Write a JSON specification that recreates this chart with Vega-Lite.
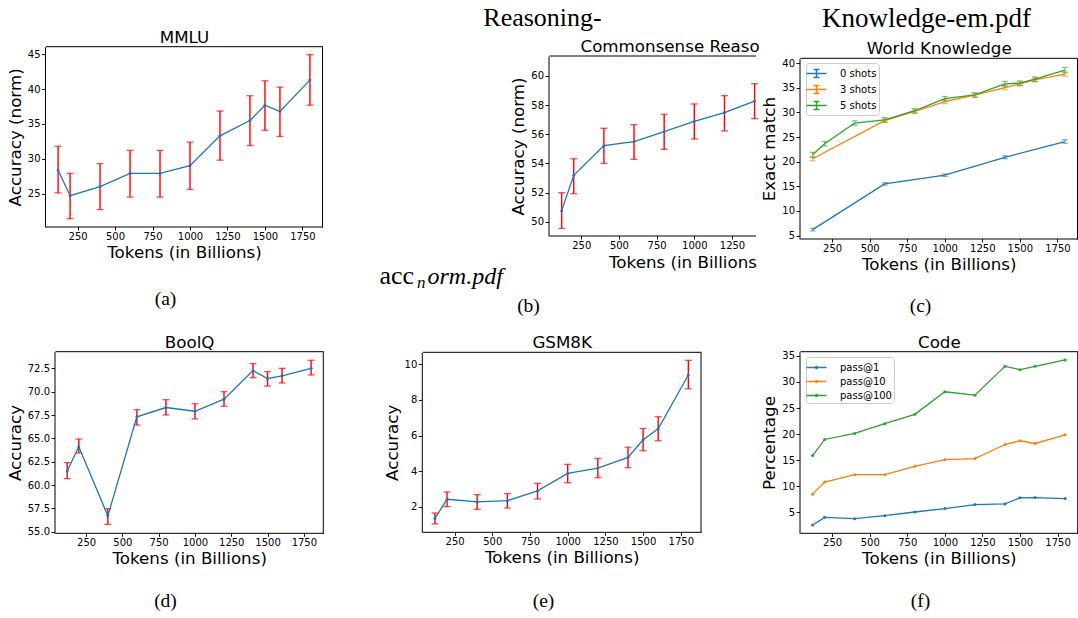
{
  "$schema": "https://vega.github.io/schema/vega-lite/v6.json",
  "width": 1078,
  "height": 618,
  "autosize": {"type": "none"},
  "padding": 0,
  "background": "white",
  "datasets": {
    "mmlu": [
      {"tokens": 120, "acc": 28.4, "lo": 25.1, "hi": 31.8},
      {"tokens": 200, "acc": 24.7, "lo": 21.4, "hi": 27.9},
      {"tokens": 400, "acc": 26.0, "lo": 22.7, "hi": 29.3},
      {"tokens": 600, "acc": 27.9, "lo": 24.5, "hi": 31.2},
      {"tokens": 800, "acc": 27.9, "lo": 24.5, "hi": 31.2},
      {"tokens": 1000, "acc": 29.0, "lo": 25.6, "hi": 32.4},
      {"tokens": 1200, "acc": 33.3, "lo": 29.8, "hi": 36.85},
      {"tokens": 1400, "acc": 35.5, "lo": 31.9, "hi": 39.05},
      {"tokens": 1500, "acc": 37.7, "lo": 34.1, "hi": 41.2},
      {"tokens": 1600, "acc": 36.8, "lo": 33.2, "hi": 40.3},
      {"tokens": 1800, "acc": 41.3, "lo": 37.7, "hi": 44.95}
    ],
    "csr": [
      {"tokens": 120, "acc": 50.76, "lo": 49.54, "hi": 51.99},
      {"tokens": 200, "acc": 53.18, "lo": 51.92, "hi": 54.32},
      {"tokens": 400, "acc": 55.22, "lo": 54.0, "hi": 56.41},
      {"tokens": 600, "acc": 55.49, "lo": 54.28, "hi": 56.66},
      {"tokens": 800, "acc": 56.18, "lo": 54.97, "hi": 57.37},
      {"tokens": 1000, "acc": 56.89, "lo": 55.67, "hi": 58.08},
      {"tokens": 1200, "acc": 57.48, "lo": 56.23, "hi": 58.65},
      {"tokens": 1400, "acc": 58.28, "lo": 57.07, "hi": 59.47}
    ],
    "wk": [
      {"series": "0 shots", "tokens": 120, "em": 6.2, "lo": 5.95, "hi": 6.45},
      {"series": "0 shots", "tokens": 600, "em": 15.5, "lo": 15.25, "hi": 15.75},
      {"series": "0 shots", "tokens": 1000, "em": 17.25, "lo": 17.0, "hi": 17.5},
      {"series": "0 shots", "tokens": 1400, "em": 20.9, "lo": 20.6, "hi": 21.2},
      {"series": "0 shots", "tokens": 1800, "em": 24.1, "lo": 23.75, "hi": 24.45},
      {"series": "3 shots", "tokens": 120, "em": 20.6, "lo": 20.2, "hi": 21.0},
      {"series": "3 shots", "tokens": 600, "em": 28.35, "lo": 28.0, "hi": 28.7},
      {"series": "3 shots", "tokens": 800, "em": 30.2, "lo": 29.85, "hi": 30.55},
      {"series": "3 shots", "tokens": 1000, "em": 32.2, "lo": 31.8, "hi": 32.6},
      {"series": "3 shots", "tokens": 1200, "em": 33.5, "lo": 33.1, "hi": 33.9},
      {"series": "3 shots", "tokens": 1400, "em": 35.05, "lo": 34.6, "hi": 35.5},
      {"series": "3 shots", "tokens": 1500, "em": 35.8, "lo": 35.4, "hi": 36.2},
      {"series": "3 shots", "tokens": 1600, "em": 36.6, "lo": 36.2, "hi": 37.0},
      {"series": "3 shots", "tokens": 1800, "em": 37.8, "lo": 37.35, "hi": 38.25},
      {"series": "5 shots", "tokens": 120, "em": 21.4, "lo": 20.9, "hi": 21.9},
      {"series": "5 shots", "tokens": 200, "em": 23.65, "lo": 23.2, "hi": 24.1},
      {"series": "5 shots", "tokens": 400, "em": 27.85, "lo": 27.4, "hi": 28.3},
      {"series": "5 shots", "tokens": 600, "em": 28.5, "lo": 28.05, "hi": 28.95},
      {"series": "5 shots", "tokens": 800, "em": 30.35, "lo": 29.9, "hi": 30.8},
      {"series": "5 shots", "tokens": 1000, "em": 32.8, "lo": 32.35, "hi": 33.25},
      {"series": "5 shots", "tokens": 1200, "em": 33.55, "lo": 33.1, "hi": 34.0},
      {"series": "5 shots", "tokens": 1400, "em": 35.8, "lo": 35.3, "hi": 36.3},
      {"series": "5 shots", "tokens": 1500, "em": 35.95, "lo": 35.5, "hi": 36.4},
      {"series": "5 shots", "tokens": 1600, "em": 36.75, "lo": 36.3, "hi": 37.2},
      {"series": "5 shots", "tokens": 1800, "em": 38.6, "lo": 38.05, "hi": 39.15}
    ],
    "boolq": [
      {"tokens": 120, "acc": 61.5, "lo": 60.68, "hi": 62.39},
      {"tokens": 200, "acc": 64.1, "lo": 63.43, "hi": 64.93},
      {"tokens": 400, "acc": 56.7, "lo": 55.79, "hi": 57.46},
      {"tokens": 600, "acc": 67.3, "lo": 66.43, "hi": 68.07},
      {"tokens": 800, "acc": 68.3, "lo": 67.5, "hi": 69.14},
      {"tokens": 1000, "acc": 67.9, "lo": 67.07, "hi": 68.71},
      {"tokens": 1200, "acc": 69.2, "lo": 68.43, "hi": 70.0},
      {"tokens": 1400, "acc": 72.25, "lo": 71.5, "hi": 73.0},
      {"tokens": 1500, "acc": 71.4, "lo": 70.6, "hi": 72.14},
      {"tokens": 1600, "acc": 71.7, "lo": 70.93, "hi": 72.5},
      {"tokens": 1800, "acc": 72.5, "lo": 71.79, "hi": 73.36}
    ],
    "gsm": [
      {"tokens": 120, "acc": 1.36, "lo": 1.05, "hi": 1.66},
      {"tokens": 200, "acc": 2.43, "lo": 2.02, "hi": 2.84},
      {"tokens": 400, "acc": 2.28, "lo": 1.87, "hi": 2.69},
      {"tokens": 600, "acc": 2.35, "lo": 1.94, "hi": 2.75},
      {"tokens": 800, "acc": 2.9, "lo": 2.45, "hi": 3.32},
      {"tokens": 1000, "acc": 3.88, "lo": 3.36, "hi": 4.39},
      {"tokens": 1200, "acc": 4.18, "lo": 3.64, "hi": 4.72},
      {"tokens": 1400, "acc": 4.78, "lo": 4.2, "hi": 5.35},
      {"tokens": 1500, "acc": 5.77, "lo": 5.15, "hi": 6.4},
      {"tokens": 1600, "acc": 6.38, "lo": 5.71, "hi": 7.06},
      {"tokens": 1800, "acc": 9.4, "lo": 8.62, "hi": 10.22}
    ],
    "code": [
      {"metric": "pass@1", "tokens": 120, "pct": 2.55},
      {"metric": "pass@1", "tokens": 200, "pct": 4.03},
      {"metric": "pass@1", "tokens": 400, "pct": 3.78},
      {"metric": "pass@1", "tokens": 600, "pct": 4.36},
      {"metric": "pass@1", "tokens": 800, "pct": 5.06},
      {"metric": "pass@1", "tokens": 1000, "pct": 5.71},
      {"metric": "pass@1", "tokens": 1200, "pct": 6.48},
      {"metric": "pass@1", "tokens": 1400, "pct": 6.61},
      {"metric": "pass@1", "tokens": 1500, "pct": 7.77},
      {"metric": "pass@1", "tokens": 1600, "pct": 7.83},
      {"metric": "pass@1", "tokens": 1800, "pct": 7.64},
      {"metric": "pass@10", "tokens": 120, "pct": 8.48},
      {"metric": "pass@10", "tokens": 200, "pct": 10.8},
      {"metric": "pass@10", "tokens": 400, "pct": 12.21},
      {"metric": "pass@10", "tokens": 600, "pct": 12.21},
      {"metric": "pass@10", "tokens": 800, "pct": 13.82},
      {"metric": "pass@10", "tokens": 1000, "pct": 15.11},
      {"metric": "pass@10", "tokens": 1200, "pct": 15.3},
      {"metric": "pass@10", "tokens": 1400, "pct": 18.0},
      {"metric": "pass@10", "tokens": 1500, "pct": 18.72},
      {"metric": "pass@10", "tokens": 1600, "pct": 18.2},
      {"metric": "pass@10", "tokens": 1800, "pct": 19.87},
      {"metric": "pass@100", "tokens": 120, "pct": 15.88},
      {"metric": "pass@100", "tokens": 200, "pct": 18.97},
      {"metric": "pass@100", "tokens": 400, "pct": 20.13},
      {"metric": "pass@100", "tokens": 600, "pct": 22.0},
      {"metric": "pass@100", "tokens": 800, "pct": 23.8},
      {"metric": "pass@100", "tokens": 1000, "pct": 28.12},
      {"metric": "pass@100", "tokens": 1200, "pct": 27.47},
      {"metric": "pass@100", "tokens": 1400, "pct": 33.0},
      {"metric": "pass@100", "tokens": 1500, "pct": 32.37},
      {"metric": "pass@100", "tokens": 1600, "pct": 33.0},
      {"metric": "pass@100", "tokens": 1800, "pct": 34.23}
    ]
  },
  "layer": [
    {
      "data": {"name": "mmlu"},
      "mark": {"type": "rule", "color": "#ff0000", "strokeWidth": 1.4},
      "encoding": {
        "x": {"field": "tokens", "type": "quantitative", "scale": {"domain": [36, 1884], "range": [45.5, 322.5], "nice": false, "zero": false},
              "axis": {"orient": "top", "offset": -46.2, "labels": false, "ticks": false, "title": "MMLU", "titleBaseline": "alphabetic", "titlePadding": 4}},
        "y": {"field": "lo", "type": "quantitative", "scale": {"domain": [20.2, 46.1], "range": [227, 46.7], "nice": false, "zero": false},
              "axis": {"orient": "right", "offset": -756, "labels": false, "ticks": false, "title": null}},
        "y2": {"field": "hi"}
      }
    },
    {
      "data": {"name": "mmlu"},
      "transform": [{"fold": ["lo", "hi"], "as": ["bound", "v"]}],
      "mark": {"type": "tick", "orient": "horizontal", "color": "#ff0000", "size": 7, "thickness": 1.3},
      "encoding": {
        "x": {"field": "tokens", "type": "quantitative", "scale": {"domain": [36, 1884], "range": [45.5, 322.5], "nice": false, "zero": false},
              "axis": {"orient": "top", "offset": 0, "domain": false, "labels": false, "ticks": false, "title": "(a)", "titleX": 165, "titleY": 304, "titleAlign": "center", "titleBaseline": "alphabetic", "titleFont": "Liberation Serif", "titleFontSize": 19.5}},
        "y": {"field": "v", "type": "quantitative", "scale": {"domain": [20.2, 46.1], "range": [227, 46.7], "nice": false, "zero": false}, "axis": null}
      }
    },
    {
      "data": {"name": "mmlu"},
      "mark": {"type": "line", "color": "#1f77b4", "strokeWidth": 1.3},
      "encoding": {
        "x": {"field": "tokens", "type": "quantitative", "scale": {"domain": [36, 1884], "range": [45.5, 322.5], "nice": false, "zero": false},
              "axis": {"orient": "bottom", "offset": -391.5, "values": [250, 500, 750, 1000, 1250, 1500, 1750], "format": "d", "title": "Tokens (in Billions)", "titlePadding": 3}},
        "y": {"field": "acc", "type": "quantitative", "scale": {"domain": [20.2, 46.1], "range": [227, 46.7], "nice": false, "zero": false},
              "axis": {"orient": "left", "offset": -45, "values": [25, 30, 35, 40, 45], "title": "Accuracy (norm)", "titlePadding": 3}}
      }
    },
    {
      "data": {"name": "mmlu"},
      "mark": {"type": "circle", "color": "#1f77b4", "size": 9, "opacity": 1},
      "encoding": {
        "x": {"field": "tokens", "type": "quantitative", "scale": {"domain": [36, 1884], "range": [45.5, 322.5], "nice": false, "zero": false}, "axis": null},
        "y": {"field": "acc", "type": "quantitative", "scale": {"domain": [20.2, 46.1], "range": [227, 46.7], "nice": false, "zero": false}, "axis": null}
      }
    },

    {
      "data": {"name": "csr"},
      "mark": {"type": "rule", "color": "#ff0000", "strokeWidth": 1.4},
      "encoding": {
        "x": {"field": "tokens", "type": "quantitative", "scale": {"domain": [36, 1406], "range": [549, 755.5], "nice": false, "zero": false},
              "axis": {"orient": "top", "offset": -55.5, "labels": false, "ticks": false, "title": "Commonsense Reaso", "titleX": 580, "titleY": -4.5, "titleAlign": "left", "titleBaseline": "alphabetic"}},
        "y": {"field": "lo", "type": "quantitative", "scale": {"domain": [49.02, 61.37], "range": [236, 56], "nice": false, "zero": false},
              "axis": {"orient": "left", "offset": 0, "domain": false, "labels": false, "ticks": false, "title": "acc", "titleAngle": 0, "titleX": 379, "titleY": 283, "titleAlign": "left", "titleBaseline": "alphabetic", "titleFont": "Liberation Serif", "titleFontSize": 26}},
        "y2": {"field": "hi"}
      }
    },
    {
      "data": {"name": "csr"},
      "transform": [{"fold": ["lo", "hi"], "as": ["bound", "v"]}],
      "mark": {"type": "tick", "orient": "horizontal", "color": "#ff0000", "size": 7, "thickness": 1.3},
      "encoding": {
        "x": {"field": "tokens", "type": "quantitative", "scale": {"domain": [36, 1406], "range": [549, 755.5], "nice": false, "zero": false},
              "axis": {"orient": "top", "offset": 0, "domain": false, "labels": false, "ticks": false, "title": "(b)", "titleX": 528, "titleY": 311, "titleAlign": "center", "titleBaseline": "alphabetic", "titleFont": "Liberation Serif", "titleFontSize": 19.5}},
        "y": {"field": "v", "type": "quantitative", "scale": {"domain": [49.02, 61.37], "range": [236, 56], "nice": false, "zero": false},
              "axis": {"orient": "left", "offset": 0, "domain": false, "labels": false, "ticks": false, "title": "Reasoning-", "titleAngle": 0, "titleX": 542, "titleY": 25, "titleAlign": "center", "titleBaseline": "alphabetic", "titleFont": "Liberation Serif", "titleFontSize": 26}}
      }
    },
    {
      "data": {"name": "csr"},
      "mark": {"type": "line", "color": "#1f77b4", "strokeWidth": 1.3},
      "encoding": {
        "x": {"field": "tokens", "type": "quantitative", "scale": {"domain": [36, 1406], "range": [549, 755.5], "nice": false, "zero": false},
              "axis": {"orient": "bottom", "offset": -382.5, "values": [250, 500, 750, 1000, 1250], "format": "d", "title": "Tokens (in Billions", "titleX": 608.5, "titleY": 31.8, "titleAlign": "left", "titleBaseline": "alphabetic"}},
        "y": {"field": "acc", "type": "quantitative", "scale": {"domain": [49.02, 61.37], "range": [236, 56], "nice": false, "zero": false},
              "axis": {"orient": "left", "offset": -548.5, "values": [50, 52, 54, 56, 58, 60], "title": "Accuracy (norm)", "titlePadding": 3}}
      }
    },
    {
      "data": {"name": "csr"},
      "mark": {"type": "circle", "color": "#1f77b4", "size": 9, "opacity": 1},
      "encoding": {
        "x": {"field": "tokens", "type": "quantitative", "scale": {"domain": [36, 1406], "range": [549, 755.5], "nice": false, "zero": false},
              "axis": {"orient": "top", "offset": 0, "domain": false, "labels": false, "ticks": false, "title": "n", "titleX": 416.5, "titleY": 287, "titleAlign": "left", "titleBaseline": "alphabetic", "titleFont": "Liberation Serif", "titleFontStyle": "italic", "titleFontSize": 17}},
        "y": {"field": "acc", "type": "quantitative", "scale": {"domain": [49.02, 61.37], "range": [236, 56], "nice": false, "zero": false},
              "axis": {"orient": "left", "offset": 0, "domain": false, "labels": false, "ticks": false, "title": "orm.pdf", "titleAngle": 0, "titleX": 427, "titleY": 283, "titleAlign": "left", "titleBaseline": "alphabetic", "titleFont": "Liberation Serif", "titleFontStyle": "italic", "titleFontSize": 24}}
      }
    },

    {
      "data": {"name": "wk"},
      "mark": {"type": "rule", "strokeWidth": 1.2, "opacity": 0.55},
      "encoding": {
        "x": {"field": "tokens", "type": "quantitative", "scale": {"domain": [36, 1884], "range": [800, 1077.5], "nice": false, "zero": false},
              "axis": {"orient": "top", "offset": -57.8, "labels": false, "ticks": false, "title": "World Knowledge", "titleBaseline": "alphabetic", "titlePadding": 4}},
        "y": {"field": "lo", "type": "quantitative", "scale": {"domain": [4.3, 41.0], "range": [239, 58.3], "nice": false, "zero": false},
              "axis": {"orient": "right", "offset": -1, "labels": false, "ticks": false, "title": null}},
        "y2": {"field": "hi"},
        "color": {"field": "series", "type": "nominal", "scale": {"domain": ["0 shots", "3 shots", "5 shots"], "range": ["#1f77b4", "#ff7f0e", "#2ca02c"]}, "legend": null}
      }
    },
    {
      "data": {"name": "wk"},
      "transform": [{"fold": ["lo", "hi"], "as": ["bound", "v"]}],
      "mark": {"type": "tick", "orient": "horizontal", "size": 6, "thickness": 1.2, "opacity": 0.6},
      "encoding": {
        "x": {"field": "tokens", "type": "quantitative", "scale": {"domain": [36, 1884], "range": [800, 1077.5], "nice": false, "zero": false},
              "axis": {"orient": "top", "offset": 0, "domain": false, "labels": false, "ticks": false, "title": "(c)", "titleX": 920, "titleY": 311, "titleAlign": "center", "titleBaseline": "alphabetic", "titleFont": "Liberation Serif", "titleFontSize": 19.5}},
        "y": {"field": "v", "type": "quantitative", "scale": {"domain": [4.3, 41.0], "range": [239, 58.3], "nice": false, "zero": false},
              "axis": {"orient": "left", "offset": 0, "domain": false, "labels": false, "ticks": false, "title": "Knowledge-em.pdf", "titleAngle": 0, "titleX": 926, "titleY": 26, "titleAlign": "center", "titleBaseline": "alphabetic", "titleFont": "Liberation Serif", "titleFontSize": 27}},
        "color": {"field": "series", "type": "nominal", "scale": {"domain": ["0 shots", "3 shots", "5 shots"], "range": ["#1f77b4", "#ff7f0e", "#2ca02c"]}, "legend": null}
      }
    },
    {
      "data": {"name": "wk"},
      "mark": {"type": "line", "strokeWidth": 1.3},
      "encoding": {
        "x": {"field": "tokens", "type": "quantitative", "scale": {"domain": [36, 1884], "range": [800, 1077.5], "nice": false, "zero": false},
              "axis": {"orient": "bottom", "offset": -379.5, "values": [250, 500, 750, 1000, 1250, 1500, 1750], "format": "d", "title": "Tokens (in Billions)", "titlePadding": 3}},
        "y": {"field": "em", "type": "quantitative", "scale": {"domain": [4.3, 41.0], "range": [239, 58.3], "nice": false, "zero": false},
              "axis": {"orient": "left", "offset": -799.5, "values": [5, 10, 15, 20, 25, 30, 35, 40], "title": "Exact match", "titlePadding": 3}},
        "color": {"field": "series", "type": "nominal", "scale": {"domain": ["0 shots", "3 shots", "5 shots"], "range": ["#1f77b4", "#ff7f0e", "#2ca02c"]},
                  "legend": {"orient": "none", "legendX": 806, "legendY": 63, "title": null, "padding": 2, "fillColor": "white", "strokeColor": "#cccccc", "cornerRadius": 3,
                             "labelFont": "DejaVu Sans", "labelFontSize": 10, "labelColor": "black", "labelOffset": 15,
                             "symbolType": "M-1.35,0H1.35M0,-0.55V0.55M-0.4,-0.55H0.4M-0.4,0.55H0.4", "symbolSize": 216, "symbolStrokeWidth": 1.5, "symbolFillColor": "transparent", "rowPadding": 0}}
      }
    },

    {
      "data": {"name": "boolq"},
      "mark": {"type": "rule", "color": "#ff0000", "strokeWidth": 1.4},
      "encoding": {
        "x": {"field": "tokens", "type": "quantitative", "scale": {"domain": [36, 1884], "range": [55, 323.3], "nice": false, "zero": false},
              "axis": {"orient": "top", "offset": -351.2, "labels": false, "ticks": false, "title": "BoolQ", "titleBaseline": "alphabetic", "titlePadding": 4}},
        "y": {"field": "lo", "type": "quantitative", "scale": {"domain": [54.83, 74.28], "range": [533.3, 351.7], "nice": false, "zero": false},
              "axis": {"orient": "right", "offset": -755.2, "labels": false, "ticks": false, "title": null}},
        "y2": {"field": "hi"}
      }
    },
    {
      "data": {"name": "boolq"},
      "transform": [{"fold": ["lo", "hi"], "as": ["bound", "v"]}],
      "mark": {"type": "tick", "orient": "horizontal", "color": "#ff0000", "size": 7, "thickness": 1.3},
      "encoding": {
        "x": {"field": "tokens", "type": "quantitative", "scale": {"domain": [36, 1884], "range": [55, 323.3], "nice": false, "zero": false},
              "axis": {"orient": "top", "offset": 0, "domain": false, "labels": false, "ticks": false, "title": "(d)", "titleX": 165, "titleY": 606, "titleAlign": "center", "titleBaseline": "alphabetic", "titleFont": "Liberation Serif", "titleFontSize": 19.5}},
        "y": {"field": "v", "type": "quantitative", "scale": {"domain": [54.83, 74.28], "range": [533.3, 351.7], "nice": false, "zero": false}, "axis": null}
      }
    },
    {
      "data": {"name": "boolq"},
      "mark": {"type": "line", "color": "#1f77b4", "strokeWidth": 1.3},
      "encoding": {
        "x": {"field": "tokens", "type": "quantitative", "scale": {"domain": [36, 1884], "range": [55, 323.3], "nice": false, "zero": false},
              "axis": {"orient": "bottom", "offset": -85.2, "values": [250, 500, 750, 1000, 1250, 1500, 1750], "format": "d", "title": "Tokens (in Billions)", "titlePadding": 3}},
        "y": {"field": "acc", "type": "quantitative", "scale": {"domain": [54.83, 74.28], "range": [533.3, 351.7], "nice": false, "zero": false},
              "axis": {"orient": "left", "offset": -54.5, "values": [55, 57.5, 60, 62.5, 65, 67.5, 70, 72.5], "format": ".1f", "title": "Accuracy", "titlePadding": 3}}
      }
    },
    {
      "data": {"name": "boolq"},
      "mark": {"type": "circle", "color": "#1f77b4", "size": 9, "opacity": 1},
      "encoding": {
        "x": {"field": "tokens", "type": "quantitative", "scale": {"domain": [36, 1884], "range": [55, 323.3], "nice": false, "zero": false}, "axis": null},
        "y": {"field": "acc", "type": "quantitative", "scale": {"domain": [54.83, 74.28], "range": [533.3, 351.7], "nice": false, "zero": false}, "axis": null}
      }
    },

    {
      "data": {"name": "gsm"},
      "mark": {"type": "rule", "color": "#ff0000", "strokeWidth": 1.4},
      "encoding": {
        "x": {"field": "tokens", "type": "quantitative", "scale": {"domain": [36, 1884], "range": [422.3, 701], "nice": false, "zero": false},
              "axis": {"orient": "top", "offset": -351.8, "labels": false, "ticks": false, "title": "GSM8K", "titleBaseline": "alphabetic", "titlePadding": 4}},
        "y": {"field": "lo", "type": "quantitative", "scale": {"domain": [0.58, 10.67], "range": [532.3, 352.3], "nice": false, "zero": false},
              "axis": {"orient": "right", "offset": -377.5, "labels": false, "ticks": false, "title": null}},
        "y2": {"field": "hi"}
      }
    },
    {
      "data": {"name": "gsm"},
      "transform": [{"fold": ["lo", "hi"], "as": ["bound", "v"]}],
      "mark": {"type": "tick", "orient": "horizontal", "color": "#ff0000", "size": 7, "thickness": 1.3},
      "encoding": {
        "x": {"field": "tokens", "type": "quantitative", "scale": {"domain": [36, 1884], "range": [422.3, 701], "nice": false, "zero": false},
              "axis": {"orient": "top", "offset": 0, "domain": false, "labels": false, "ticks": false, "title": "(e)", "titleX": 543, "titleY": 606, "titleAlign": "center", "titleBaseline": "alphabetic", "titleFont": "Liberation Serif", "titleFontSize": 19.5}},
        "y": {"field": "v", "type": "quantitative", "scale": {"domain": [0.58, 10.67], "range": [532.3, 352.3], "nice": false, "zero": false},
              "axis": {"orient": "left", "offset": 0, "domain": false, "labels": false, "ticks": false, "title": "(f)", "titleAngle": 0, "titleX": 920, "titleY": 606, "titleAlign": "center", "titleBaseline": "alphabetic", "titleFont": "Liberation Serif", "titleFontSize": 19.5}}
      }
    },
    {
      "data": {"name": "gsm"},
      "mark": {"type": "line", "color": "#1f77b4", "strokeWidth": 1.3},
      "encoding": {
        "x": {"field": "tokens", "type": "quantitative", "scale": {"domain": [36, 1884], "range": [422.3, 701], "nice": false, "zero": false},
              "axis": {"orient": "bottom", "offset": -86.2, "values": [250, 500, 750, 1000, 1250, 1500, 1750], "format": "d", "title": "Tokens (in Billions)", "titlePadding": 3}},
        "y": {"field": "acc", "type": "quantitative", "scale": {"domain": [0.58, 10.67], "range": [532.3, 352.3], "nice": false, "zero": false},
              "axis": {"orient": "left", "offset": -421.8, "values": [2, 4, 6, 8, 10], "title": "Accuracy", "titlePadding": 3}}
      }
    },
    {
      "data": {"name": "gsm"},
      "mark": {"type": "circle", "color": "#1f77b4", "size": 9, "opacity": 1},
      "encoding": {
        "x": {"field": "tokens", "type": "quantitative", "scale": {"domain": [36, 1884], "range": [422.3, 701], "nice": false, "zero": false}, "axis": null},
        "y": {"field": "acc", "type": "quantitative", "scale": {"domain": [0.58, 10.67], "range": [532.3, 352.3], "nice": false, "zero": false}, "axis": null}
      }
    },

    {
      "data": {"name": "code"},
      "mark": {"type": "line", "strokeWidth": 1.3},
      "encoding": {
        "x": {"field": "tokens", "type": "quantitative", "scale": {"domain": [36, 1884], "range": [800, 1077.7], "nice": false, "zero": false},
              "axis": {"orient": "bottom", "offset": -85.2, "values": [250, 500, 750, 1000, 1250, 1500, 1750], "format": "d", "title": "Tokens (in Billions)", "titlePadding": 3}},
        "y": {"field": "pct", "type": "quantitative", "scale": {"domain": [0.97, 35.81], "range": [533.3, 351.7], "nice": false, "zero": false},
              "axis": {"orient": "left", "offset": -799.5, "values": [5, 10, 15, 20, 25, 30, 35], "title": "Percentage", "titlePadding": 3}},
        "color": {"field": "metric", "type": "nominal", "scale": {"domain": ["pass@1", "pass@10", "pass@100"], "range": ["#1f77b4", "#ff7f0e", "#2ca02c"]},
                  "legend": {"orient": "none", "legendX": 806, "legendY": 357, "title": null, "padding": 2, "fillColor": "white", "strokeColor": "#cccccc", "cornerRadius": 3,
                             "labelFont": "DejaVu Sans", "labelFontSize": 10, "labelColor": "black", "labelOffset": 15,
                             "symbolType": "M-1.35,0H1.35M-0.12,0A0.12,0.12,0,1,1,0.12,0A0.12,0.12,0,1,1,-0.12,0", "symbolSize": 216, "symbolStrokeWidth": 1.5, "symbolFillColor": "transparent", "rowPadding": 0}}
      }
    },
    {
      "data": {"name": "code"},
      "mark": {"type": "circle", "size": 9, "opacity": 1},
      "encoding": {
        "x": {"field": "tokens", "type": "quantitative", "scale": {"domain": [36, 1884], "range": [800, 1077.7], "nice": false, "zero": false},
              "axis": {"orient": "top", "offset": -351.2, "labels": false, "ticks": false, "title": "Code", "titleBaseline": "alphabetic", "titlePadding": 4}},
        "y": {"field": "pct", "type": "quantitative", "scale": {"domain": [0.97, 35.81], "range": [533.3, 351.7], "nice": false, "zero": false},
              "axis": {"orient": "right", "offset": -0.8, "labels": false, "ticks": false, "title": null}},
        "color": {"field": "metric", "type": "nominal", "scale": {"domain": ["pass@1", "pass@10", "pass@100"], "range": ["#1f77b4", "#ff7f0e", "#2ca02c"]}, "legend": null}
      }
    }
  ],
  "resolve": {
    "scale": {"x": "independent", "y": "independent", "color": "independent"},
    "axis": {"x": "independent", "y": "independent"},
    "legend": {"color": "independent"}
  },
  "config": {
    "font": "DejaVu Sans",
    "view": {"stroke": null},
    "axis": {
      "grid": false,
      "labelFont": "DejaVu Sans",
      "labelFontSize": 10,
      "labelColor": "#000000",
      "labelPadding": 1.5,
      "labelFlush": false,
      "labelOverlap": false,
      "titleFont": "DejaVu Sans",
      "titleFontSize": 16.7,
      "titleFontWeight": "normal",
      "titleColor": "#000000",
      "domainColor": "#000000",
      "domainWidth": 1,
      "tickColor": "#000000",
      "tickSize": 3.5,
      "tickWidth": 0.9
    }
  }
}
